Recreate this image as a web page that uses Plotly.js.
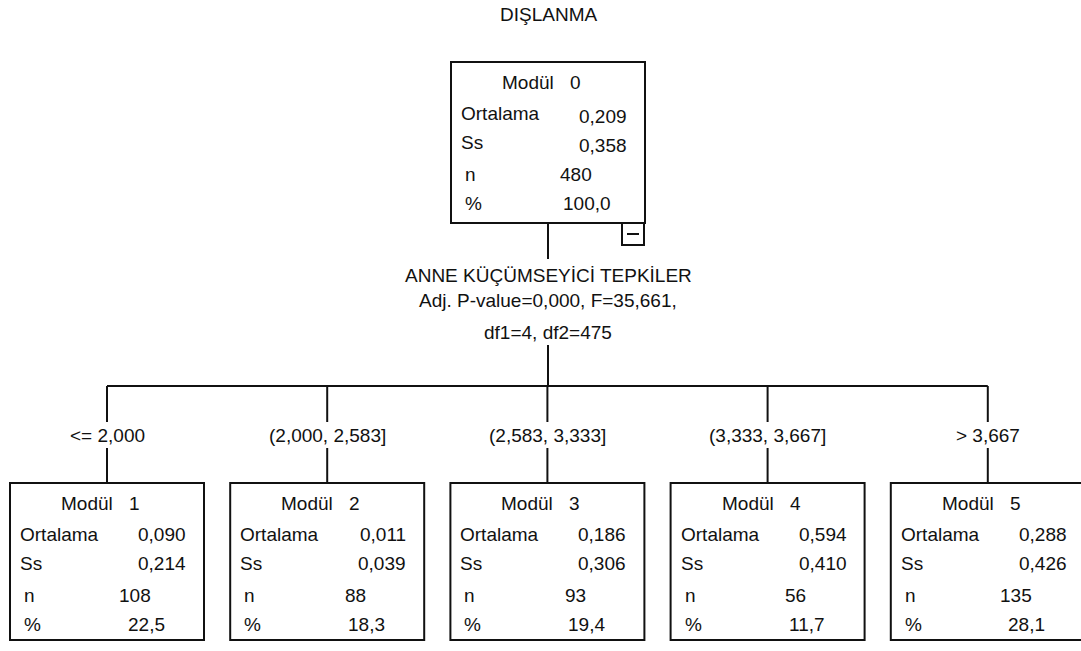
<!DOCTYPE html>
<html>
<head>
<meta charset="utf-8">
<script src="https://cdn.plot.ly/plotly-3.0.1.min.js"></script>
<style>html,body{margin:0;padding:0;background:#fff;}#chart{width:1081px;height:651px;}</style>
</head>
<body>
<div id="chart"></div>
<script>
// ---- data ----
const chartTitle = "DIŞLANMA";
const nodeIds = [0, 1, 2, 3, 4, 5];
const nodeMeans = [0.209, 0.090, 0.011, 0.186, 0.594, 0.288];
const nodeSds = [0.358, 0.214, 0.039, 0.306, 0.410, 0.426];
const nodeCounts = [480, 108, 88, 93, 56, 135];
const nodePercents = [100.0, 22.5, 18.3, 19.4, 11.7, 28.1];
const rowLabels = ["Ortalama", "Ss", "n", "%"];
const nodeWord = "Modül";
const splitVariable = "ANNE KÜÇÜMSEYİCİ TEPKİLER";
const splitPValue = 0.000;
const splitF = 35.661;
const splitDf1 = 4;
const splitDf2 = 475;
const splitLabels = ["<= 2,000", "(2,000, 2,583]", "(2,583, 3,333]", "(3,333, 3,667]", "> 3,667"];

// ---- layout geometry (pixel-like data units) ----
const FONT = "Liberation Sans, Arial, sans-serif";
const FS = 19;
const INK = "#111";
const BOX_W = 194;
const rootCx = 548, rootTop = 62, rootH = 161;
const childCx0 = 107, childStep = 220.2, childTop = 483, childH = 157;
const busY = 386;

function fmt(v, d) { return v.toFixed(d).replace('.', ','); }

const shapes = [];
const ann = [];
function line(x0, y0, x1, y1) {
  shapes.push({type: 'line', xref: 'x', yref: 'y', x0, y0, x1, y1, line: {color: INK, width: 2}});
}
function rect(x0, y0, x1, y1) {
  shapes.push({type: 'rect', xref: 'x', yref: 'y', x0, y0, x1, y1, line: {color: INK, width: 2}, fillcolor: 'rgba(0,0,0,0)'});
}
function txt(text, x, y, xanchor) {
  ann.push({text, x, y, xref: 'x', yref: 'y', xanchor: xanchor || 'center', yanchor: 'middle',
            showarrow: false, font: {family: FONT, size: FS, color: INK}});
}

function drawNode(i, cx, top, h, valOff) {
  const L = cx - BOX_W / 2;
  rect(L, top, L + BOX_W, top + h);
  txt(nodeWord, L + 49, top + 20, 'left');
  txt(String(nodeIds[i]), L + 117, top + 20, 'left');
  const rows = [
    [rowLabels[0], fmt(nodeMeans[i], 3), 51, 'right', L + 178],
    [rowLabels[1], fmt(nodeSds[i], 3), 80, 'right', L + 178],
    [rowLabels[2], String(nodeCounts[i]), 112, 'center', L + 125],
    [rowLabels[3], fmt(nodePercents[i], 1), 141, 'center', L + 136]
  ];
  rows.forEach((r, k) => {
    const lx = k < 2 ? L + 8 : L + 12;
    txt(r[0], lx, top + r[2], 'left');
    txt(r[1], r[4], top + r[2] + (k < 2 ? valOff : 0), r[3]);
  });
}

// title
txt(chartTitle, rootCx, 14, 'center');

// root
drawNode(0, rootCx, rootTop, rootH, 3);
// collapse marker
rect(rootCx + 74, rootTop + rootH, rootCx + 96, rootTop + rootH + 22);
line(rootCx + 79, rootTop + rootH + 11, rootCx + 91, rootTop + rootH + 11);

// split info
line(rootCx, rootTop + rootH, rootCx, 259);
txt(splitVariable, rootCx, 275, 'center');
txt("Adj. P-value=" + fmt(splitPValue, 3) + ", F=" + fmt(splitF, 3) + ",", rootCx, 300, 'center');
txt("df1=" + splitDf1 + ", df2=" + splitDf2, rootCx, 332, 'center');
line(rootCx, 345, rootCx, busY);

// children
const childCx = splitLabels.map((_, j) => childCx0 + childStep * j);
line(childCx[0], busY, childCx[childCx.length - 1], busY);
splitLabels.forEach((lab, j) => {
  const cx = childCx[j];
  line(cx, busY, cx, 422);
  txt(lab, cx, 435, 'center');
  line(cx, 448, cx, childTop);
  drawNode(j + 1, cx, childTop, childH, 0);
});

const layout = {
  width: 1081, height: 651,
  margin: {l: 0, r: 0, t: 0, b: 0},
  paper_bgcolor: '#fff', plot_bgcolor: '#fff',
  xaxis: {range: [0, 1081], visible: false, fixedrange: true},
  yaxis: {range: [651, 0], visible: false, fixedrange: true},
  shapes, annotations: ann, showlegend: false
};
Plotly.newPlot('chart', [], layout, {displayModeBar: false, staticPlot: true});
</script>
</body>
</html>
